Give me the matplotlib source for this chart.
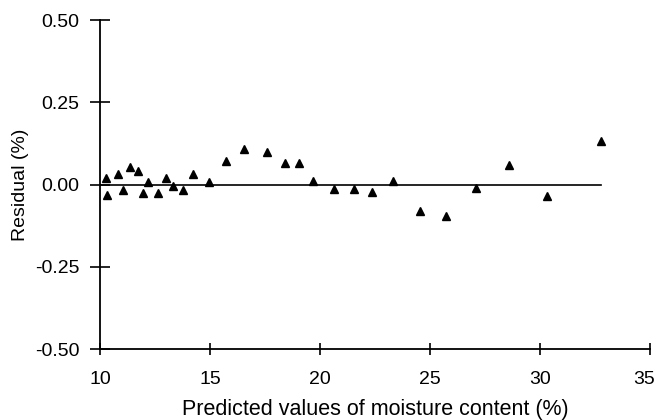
import matplotlib
matplotlib.use('Agg')
import matplotlib.pyplot as plt
from matplotlib.ticker import FormatStrFormatter
from matplotlib.transforms import ScaledTranslation

# predicted moisture content (%) and residuals (%)
predicted = [10.26, 10.30, 10.83, 11.03, 11.36, 11.71, 11.97, 12.17, 12.65, 12.98,
             13.33, 13.79, 14.23, 14.97, 15.74, 16.56, 17.58, 18.41, 19.05, 19.70,
             20.65, 21.56, 22.36, 23.33, 24.55, 25.73, 27.08, 28.57, 30.32, 32.79]
residual = [0.019, -0.031, 0.033, -0.015, 0.055, 0.042, -0.026, 0.007, -0.026, 0.019,
            -0.003, -0.015, 0.032, 0.008, 0.071, 0.109, 0.100, 0.067, 0.067, 0.010,
            -0.012, -0.012, -0.022, 0.010, -0.079, -0.096, -0.011, 0.061, -0.034, 0.133]
xticks = [10, 15, 20, 25, 30, 35]
yticks = [-0.50, -0.25, 0.00, 0.25, 0.50]

plt.rcParams['font.family'] = ['Liberation Sans', 'DejaVu Sans']
plt.rcParams['axes.unicode_minus'] = False

fig = plt.figure(figsize=(6.58, 4.20), dpi=100)
ax = fig.add_axes([0.152, 0.169, 0.836, 0.783])

# zero reference line, drawn only across the data range
ax.plot([xticks[0], max(predicted)], [0, 0], color='black', lw=1.2, zorder=1)
ax.plot(predicted, residual, linestyle='none', marker='^', color='black', ms=6, zorder=2)

ax.set_xlim(xticks[0], xticks[-1])
ax.set_ylim(yticks[0], yticks[-1])
ax.set_xticks(xticks)
ax.set_yticks(yticks)
ax.yaxis.set_major_formatter(FormatStrFormatter('%.2f'))

for s in ['top', 'right']:
    ax.spines[s].set_visible(False)
for s in ['left', 'bottom']:
    ax.spines[s].set_linewidth(1.3)

ax.tick_params(axis='x', direction='inout', length=9, width=1.2, labelsize=14, pad=11)
ax.tick_params(axis='y', direction='inout', length=14, width=1.2, labelsize=14, pad=8)

# last x label sits a little left so it stays inside the figure
lbl = ax.get_xticklabels()[-1]
lbl.set_transform(lbl.get_transform() + ScaledTranslation(-4 / 72, 0, fig.dpi_scale_trans))

ax.set_xlabel('Predicted values of moisture content (%)', fontsize=15.5, labelpad=8)
ax.set_ylabel('Residual (%)', fontsize=14, labelpad=4)

fig.savefig('out.png', dpi=100)
